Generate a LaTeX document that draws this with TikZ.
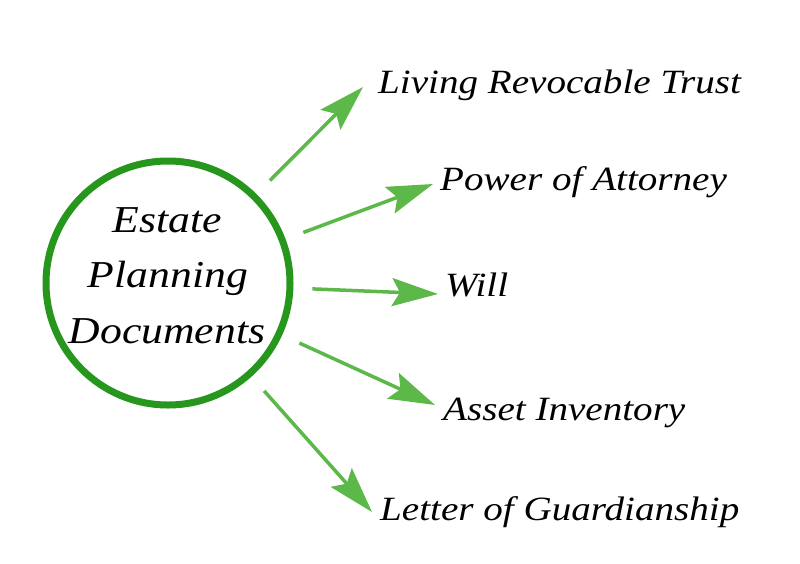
\documentclass[tikz,border=0pt]{standalone}
\usepackage{fontspec}
\setmainfont{Liberation Serif}
\newfontfamily\lblfont[FakeStretch=1.15]{Liberation Serif}
\usetikzlibrary{arrows.meta}
\definecolor{ringgreen}{RGB}{38,150,28}
\definecolor{arrowgreen}{RGB}{92,184,72}
\begin{document}
\begin{tikzpicture}[x=1pt,y=-1pt,
  ring/.style={circle,draw=ringgreen,line width=7pt,minimum size=244pt,inner sep=0pt},
  centertext/.style={font=\lblfont\fontsize{38}{55}\selectfont\itshape,align=center,inner sep=0pt},
  lbl/.style={anchor=base west,font=\lblfont\fontsize{34}{38}\selectfont\itshape,inner sep=0pt},
  arr/.style={draw=arrowgreen,line width=3.5pt,-{Stealth[length=46pt,width=28pt,inset=8pt]},shorten <=19pt}]
\useasboundingbox (0,0) rectangle (800,563);
\node[ring] (c) at (168,283) {};
\node[centertext,anchor=base] (t1) at (167,232) {Estate};
\node[centertext,anchor=base] (t2) at (168,287) {Planning};
\node[centertext,anchor=base] (t3) at (167,343) {Documents};
\node[lbl] (l1) at (378,93) {Living Revocable Trust};
\node[lbl] (l2) at (440,190) {Power of Attorney};
\node[lbl] (l3) at (445,296) {Will};
\node[lbl] (l4) at (443,420) {Asset Inventory};
\node[lbl] (l5) at (380,520) {Letter of Guardianship};
\coordinate (e1) at (363,87);
\coordinate (e2) at (433,184);
\coordinate (e3) at (438,294);
\coordinate (e4) at (435,405);
\coordinate (e5) at (372,512);
\draw[arr] (c) -- (e1);
\draw[arr] (c) -- (e2);
\draw[arr] (c) -- (e3);
\draw[arr] (c) -- (e4);
\draw[arr] (c) -- (e5);
\end{tikzpicture}
\end{document}
